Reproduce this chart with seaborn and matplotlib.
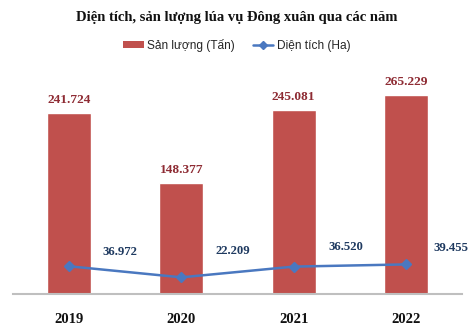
import matplotlib
matplotlib.use("Agg")
import matplotlib.pyplot as plt
import seaborn as sns
import pandas as pd
from matplotlib.patches import Patch
from matplotlib.lines import Line2D

years = ["2019", "2020", "2021", "2022"]
san_luong = [241.724, 148.377, 245.081, 265.229]
dien_tich = [36.972, 22.209, 36.520, 39.455]

BAR = "#C0504D"
LINE = "#4A78C0"
BAR_TXT = "#8E2B33"
LINE_TXT = "#1F3A60"

# label offsets for the line labels (pixels, right / up)
line_lbl_dx = [51, 51, 52, 45]
line_lbl_dy = [14, 26, 20, 16]

sns.set_theme(style="white")
plt.rcParams['font.family'] = ['Liberation Serif', 'DejaVu Serif']

df = pd.DataFrame({"year": years, "sl": san_luong, "dt": dien_tich})

fig = plt.figure(figsize=(4.74, 3.26), dpi=100)
W, H = 474, 326
ax = fig.add_axes([13 / W, (H - 294) / H, (462 - 13) / W, (294 - 69) / H])

sns.barplot(data=df, x="year", y="sl", color=BAR, width=0.39, saturation=1, ax=ax)
ax.plot(range(len(years)), dien_tich, color=LINE, lw=1.8, marker="D", ms=5, zorder=5)

ax.set_xlim(-0.5, 3.5)
ax.set_ylim(0, 300)
ax.set_yticks([])
ax.set_xlabel("")
ax.set_ylabel("")
for s in ["top", "left", "right"]:
    ax.spines[s].set_visible(False)
ax.spines["bottom"].set_color("#BFBFBF")
ax.spines["bottom"].set_linewidth(1.5)
ax.tick_params(axis="x", length=0, pad=14)
for lbl in ax.get_xticklabels():
    lbl.set_fontweight("bold")
    lbl.set_fontsize(10.5)
    lbl.set_color("#111111")

for i, v in enumerate(san_luong):
    ax.annotate(f"{v:.3f}", (i, v), xytext=(0, 5), textcoords="offset points",
                ha="center", va="bottom", fontsize=9.6, fontweight="bold", color=BAR_TXT)
for i, v in enumerate(dien_tich):
    ax.annotate(f"{v:.3f}", (i, v), xytext=(line_lbl_dx[i] * 0.72, line_lbl_dy[i] * 0.72),
                textcoords="offset points",
                ha="center", va="center", fontsize=9.2, fontweight="bold", color=LINE_TXT)

fig.text(0.5, 1 - 18 / H, "Diện tích, sản lượng lúa vụ Đông xuân qua các năm",
         ha="center", va="center", fontsize=10.5, fontweight="bold", color="#111111")

handles = [Patch(facecolor=BAR, edgecolor="none"),
           Line2D([0], [0], color=LINE, lw=1.8, marker="D", ms=4)]
fig.legend(handles, ["Sản lượng (Tấn)", "Diện tích (Ha)"], loc="center",
           bbox_to_anchor=(0.5, 1 - 45 / H), ncol=2, frameon=False,
           prop={"family": "Liberation Sans", "size": 8.6},
           handlelength=1.7, handleheight=0.55, columnspacing=1.5, handletextpad=0.3)

fig.savefig("out.png", dpi=100)
